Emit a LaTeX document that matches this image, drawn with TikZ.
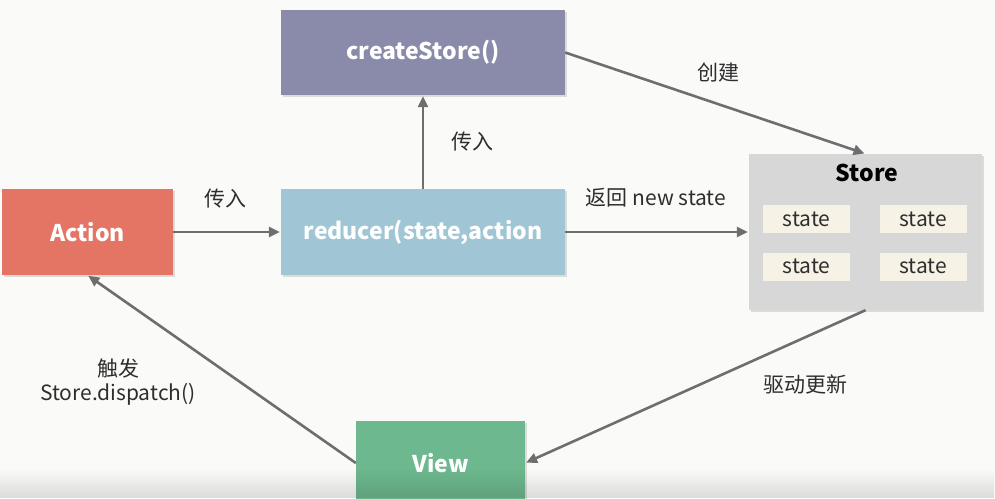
\documentclass[tikz,border=0pt]{standalone}
\usepackage{fontspec}
\setmainfont{Noto Sans CJK SC}
\usepackage{xcolor}
\usepackage{tikz}
\usetikzlibrary{arrows.meta,positioning,shadows,fadings}
\definecolor{fink}{HTML}{2E2E2E}
\definecolor{fline}{HTML}{6E6E6E}
\definecolor{fpaper}{HTML}{FAFBF9}
\definecolor{fpurple}{HTML}{8A8BAB}
\definecolor{fred}{HTML}{E47564}
\definecolor{fblue}{HTML}{A0C6D6}
\definecolor{fgrey}{HTML}{D7D7D7}
\definecolor{fcream}{HTML}{F6F2E6}
\definecolor{fgreen}{HTML}{6DB88E}

\begin{document}
\begin{tikzpicture}[x=1pt,y=-1pt,
  box/.style={minimum width=284pt,minimum height=85pt,inner sep=0pt,text=white,
    font=\fontsize{23}{26}\selectfont\bfseries,
    drop shadow={opacity=0.25,shadow xshift=2pt,shadow yshift=-2pt}},
  statebox/.style={fill=fcream,minimum width=87pt,minimum height=28pt,inner sep=0pt,
    text=fink,font=\fontsize{21}{24}\selectfont},
  flow/.style={-{Triangle[length=11pt,width=10pt]},fline,line width=2.6pt,shorten >=1pt},
  lbl/.style={text=fink,font=\fontsize{21}{24}\selectfont,align=center}]
  \useasboundingbox (0,0) rectangle (995,498);
  \clip (0,0) rectangle (995,498);
  \fill[fpaper] (0,0) rectangle (995,498);

  % boxes
  \node[box,fill=fpurple] (create) at (423,52.5) {createStore()};
  \node[box,fill=fred,minimum width=171pt,minimum height=86pt] (action) at (87.5,232) {Action};
  \node[box,fill=fblue,minimum height=86pt] (reducer) at (423,232) {reducer(state,action};
  \node[box,fill=fgreen,minimum width=169pt,minimum height=84pt] (view) at (440.5,463) {View};

  % store with its states
  \node[box,fill=fgrey,minimum width=233pt,minimum height=156pt] (store) at (865.5,232) {};
  \node[text=black,font=\fontsize{23}{26}\selectfont\bfseries] (storetitle) at (867,173) {Store};
  \node[statebox] (s1) at (806.5,219) {state};
  \node[statebox] (s2) at (923,219) {state};
  \node[statebox] (s3) at (806.5,266.5) {state};
  \node[statebox] (s4) at (923,266.5) {state};

  % connectors
  \draw[flow] (action) -- (reducer);
  \draw[flow] (reducer) -- (create);
  \draw[flow] (reducer) -- (store);
  \draw[flow] (create.east) -- (store.north);
  \draw[flow] (store.south) -- (view.east);
  \draw[flow] (view.west) -- (action.south);

  % labels
  \node[lbl] (l1) at (225,199) {传入};
  \node[lbl] (l2) at (472,142) {传入};
  \node[lbl] (l3) at (656,198) {返回 new state};
  \node[lbl] (l4) at (718,73) {创建};
  \node[lbl] (l5) at (805,384) {驱动更新};
  \node[lbl] (l6) at (118,382) {触发\\Store.dispatch()};

  % darker strip at the bottom edge
  \fill[black,opacity=0.12,path fading=north] (0,468) rectangle (995,498);
\end{tikzpicture}
\end{document}
